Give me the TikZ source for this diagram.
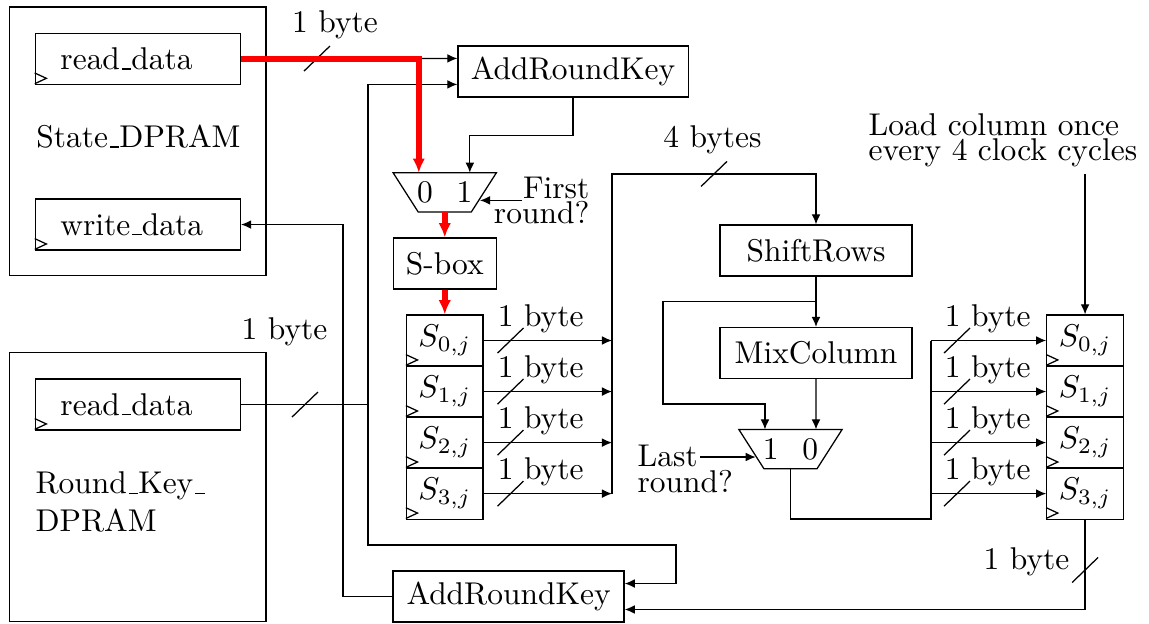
\documentclass[tikz,border=0pt]{standalone}
\usetikzlibrary{arrows.meta, positioning, calc}
% mux outline drawn over an empty node
\newcommand{\drawmux}[1]{%
  \draw (#1.north west) -- (#1.north east)
    -- ($(#1.south east)+(-0.28,0)$) -- ($(#1.south west)+(0.28,0)$) -- cycle;}
% clock input of a register
\newcommand{\clockmark}[1]{%
  \draw ($(#1.south west)+(0,0.015)$) -- ++(0.13,0.06) -- ++(-0.13,0.06);}
% bus width slash
\newcommand{\busmark}[1]{%
  \draw (#1) +(-0.145,-0.14) -- +(0.145,0.14);}
% short rule underscore
\newcommand{\uscore}{\leavevmode\kern.06em\vbox{\hrule width.3em}}

\begin{document}
\begin{tikzpicture}[
  blk/.style={draw, minimum width=#1, minimum height=0.57cm},
  port/.style={draw, minimum height=0.57cm, text width=1.73cm,
               inner xsep=0.28cm, align=left},
  ram/.style={draw, minimum width=2.86cm, minimum height=3.0cm},
  reg/.style={draw, minimum width=0.855cm, minimum height=0.57cm, inner sep=0pt},
  mux/.style={minimum width=1.14cm, minimum height=0.424cm, inner sep=0pt},
  conn/.style={-{Latex[length=3.2pt,width=2.8pt]}},
  hot/.style={draw=red, line width=1.8pt, -{Latex[length=4.5pt,width=4pt]}},
  tag/.style={inner sep=0pt, font=\fontsize{10}{8}\selectfont}
]
\useasboundingbox (0,0) rectangle (12.832,6.958);

% Memories
\node[ram]  (sram)   at (1.54,5.38) {};
\node[port] (sread)  at (1.54,6.30) {read\uscore data};
\node[port] (swrite) at (1.54,4.45) {write\uscore data};
\node[tag, anchor=west] (slbl) at (0.40,5.43) {State\uscore DPRAM};
\node[ram]  (kram)   at (1.54,1.52) {};
\node[port] (kread)  at (1.54,2.44) {read\uscore data};
\node[anchor=west, align=left, inner sep=0pt] (klbl) at (0.39,1.35) {Round\uscore Key\uscore\\DPRAM};

% Round datapath
\node[blk=2.57cm] (ark1)  at (6.40,6.16) {AddRoundKey};
\node[mux]        (mux1)  at (4.967,4.81) {0\hspace{7.5pt}1};
\node[blk=1.15cm] (sbox)  at (4.967,4.015) {S-box};
\foreach \i/\y in {0/3.155,1/2.585,2/2.015,3/1.445}{
  \node[reg] (l\i) at (4.967,\y) {$S_{\i,j}$};
  \node[reg] (r\i) at (12.118,\y) {$S_{\i,j}$};
}
\node[blk=2.144cm] (srows) at (9.113,4.16) {ShiftRows};
\node[blk=2.144cm] (mcol)  at (9.113,3.015) {MixColumn};
\node[mux]         (mux2)  at (8.828,1.943) {1\hspace{7.5pt}0};
\node[blk=2.58cm]  (ark2)  at (5.68,0.296) {AddRoundKey};

\drawmux{mux1}
\drawmux{mux2}
\foreach \n in {sread,swrite,kread,l0,l1,l2,l3,r0,r1,r2,r3}{\clockmark{\n}}

% Side notes
\node[tag, align=right, anchor=east] (first) at (6.589,4.717) {First\\round?};
\node[tag, align=left, anchor=west]  (last)  at (7.114,1.720) {Last\\round?};
\node[tag, align=left, anchor=west]  (load)  at (9.694,5.394) {Load column once\\every 4 clock cycles};
\node[tag] (w1) at (3.741,6.679) {1 byte};
\node[tag] (w2) at (3.177,3.250) {1 byte};
\node[tag] (w3) at (7.957,5.394) {4 bytes};
\node[tag] (w4) at (11.464,0.681) {1 byte};

% Bend points
\coordinate (kx)    at (4.11,0);
\coordinate (wx)    at (3.83,0);
\coordinate (kturn) at (7.55,0.871);
\coordinate (lbus)  at (6.835,5.015);
\coordinate (rbus)  at (10.398,1.161);
\coordinate (br)    at ($(srows.south)!0.5!(mcol.north)$);
\coordinate (loadin) at (12.118,5.015);
\coordinate (firstin) at (5.83,4.72);
\coordinate (lastin)  at (7.818,1.854);

% Connections
\draw[conn] (sread.east) -- ($(ark1.west)+(0,0.145)$);
\draw[conn] (kread.east) -- (kread.east -| kx) |- ($(ark1.west)+(0,-0.145)$);
\draw[conn] (kread.east -| kx) |- (kturn) |- ($(ark2.east)+(0,0.145)$);
\draw[conn] (ark2.west) -| (swrite.east -| wx) -- (swrite.east);
\draw[conn] (ark1.south) -- ++(0,-0.424) -| ($(mux1.north)+(0.28,0)$);
\draw[conn] (firstin) -- (5.36,4.72);
\foreach \i in {0,...,3}{
  \draw[conn] (l\i.east) -- (l\i.east -| lbus);
  \draw[conn] (rbus |- r\i) -- (r\i.west);
  \busmark{$(l\i.east)+(0.3,0)$}
  \busmark{$(rbus |- r\i)+(0.29,0)$}
  \node[tag] at ($(l\i.east)+(0.637,0.24)$) {1 byte};
  \node[tag] at ($(rbus |- r\i)+(0.633,0.24)$) {1 byte};
}
\draw[conn] (lbus |- l3) -- (lbus) -| (srows.north);
\draw[conn] (srows) -- (mcol);
\draw[conn] (br) -| (7.405,2.446) -| ($(mux2.north)+(-0.285,0)$);
\draw[conn] (mcol.south) -- ($(mux2.north)+(0.285,0)$);
\draw[conn] (lastin) -- (8.44,1.854);
\draw (mux2.south) |- (rbus) -- (rbus |- r0);
\draw[conn] (loadin) -- (r0.north);
\draw[conn] (r3.south) |- ($(ark2.east)+(0,-0.145)$);

% Bus widths
\busmark{3.540,6.304}
\busmark{3.406,2.44}
\busmark{7.974,5.015}
\busmark{12.118,0.592}

% First-round path
\draw[hot] (sread.east) -| ($(mux1.north)+(-0.29,0)$);
\draw[hot] (mux1.south) -- (sbox.north);
\draw[hot] (sbox.south) -- (l0.north);
\end{tikzpicture}
\end{document}
